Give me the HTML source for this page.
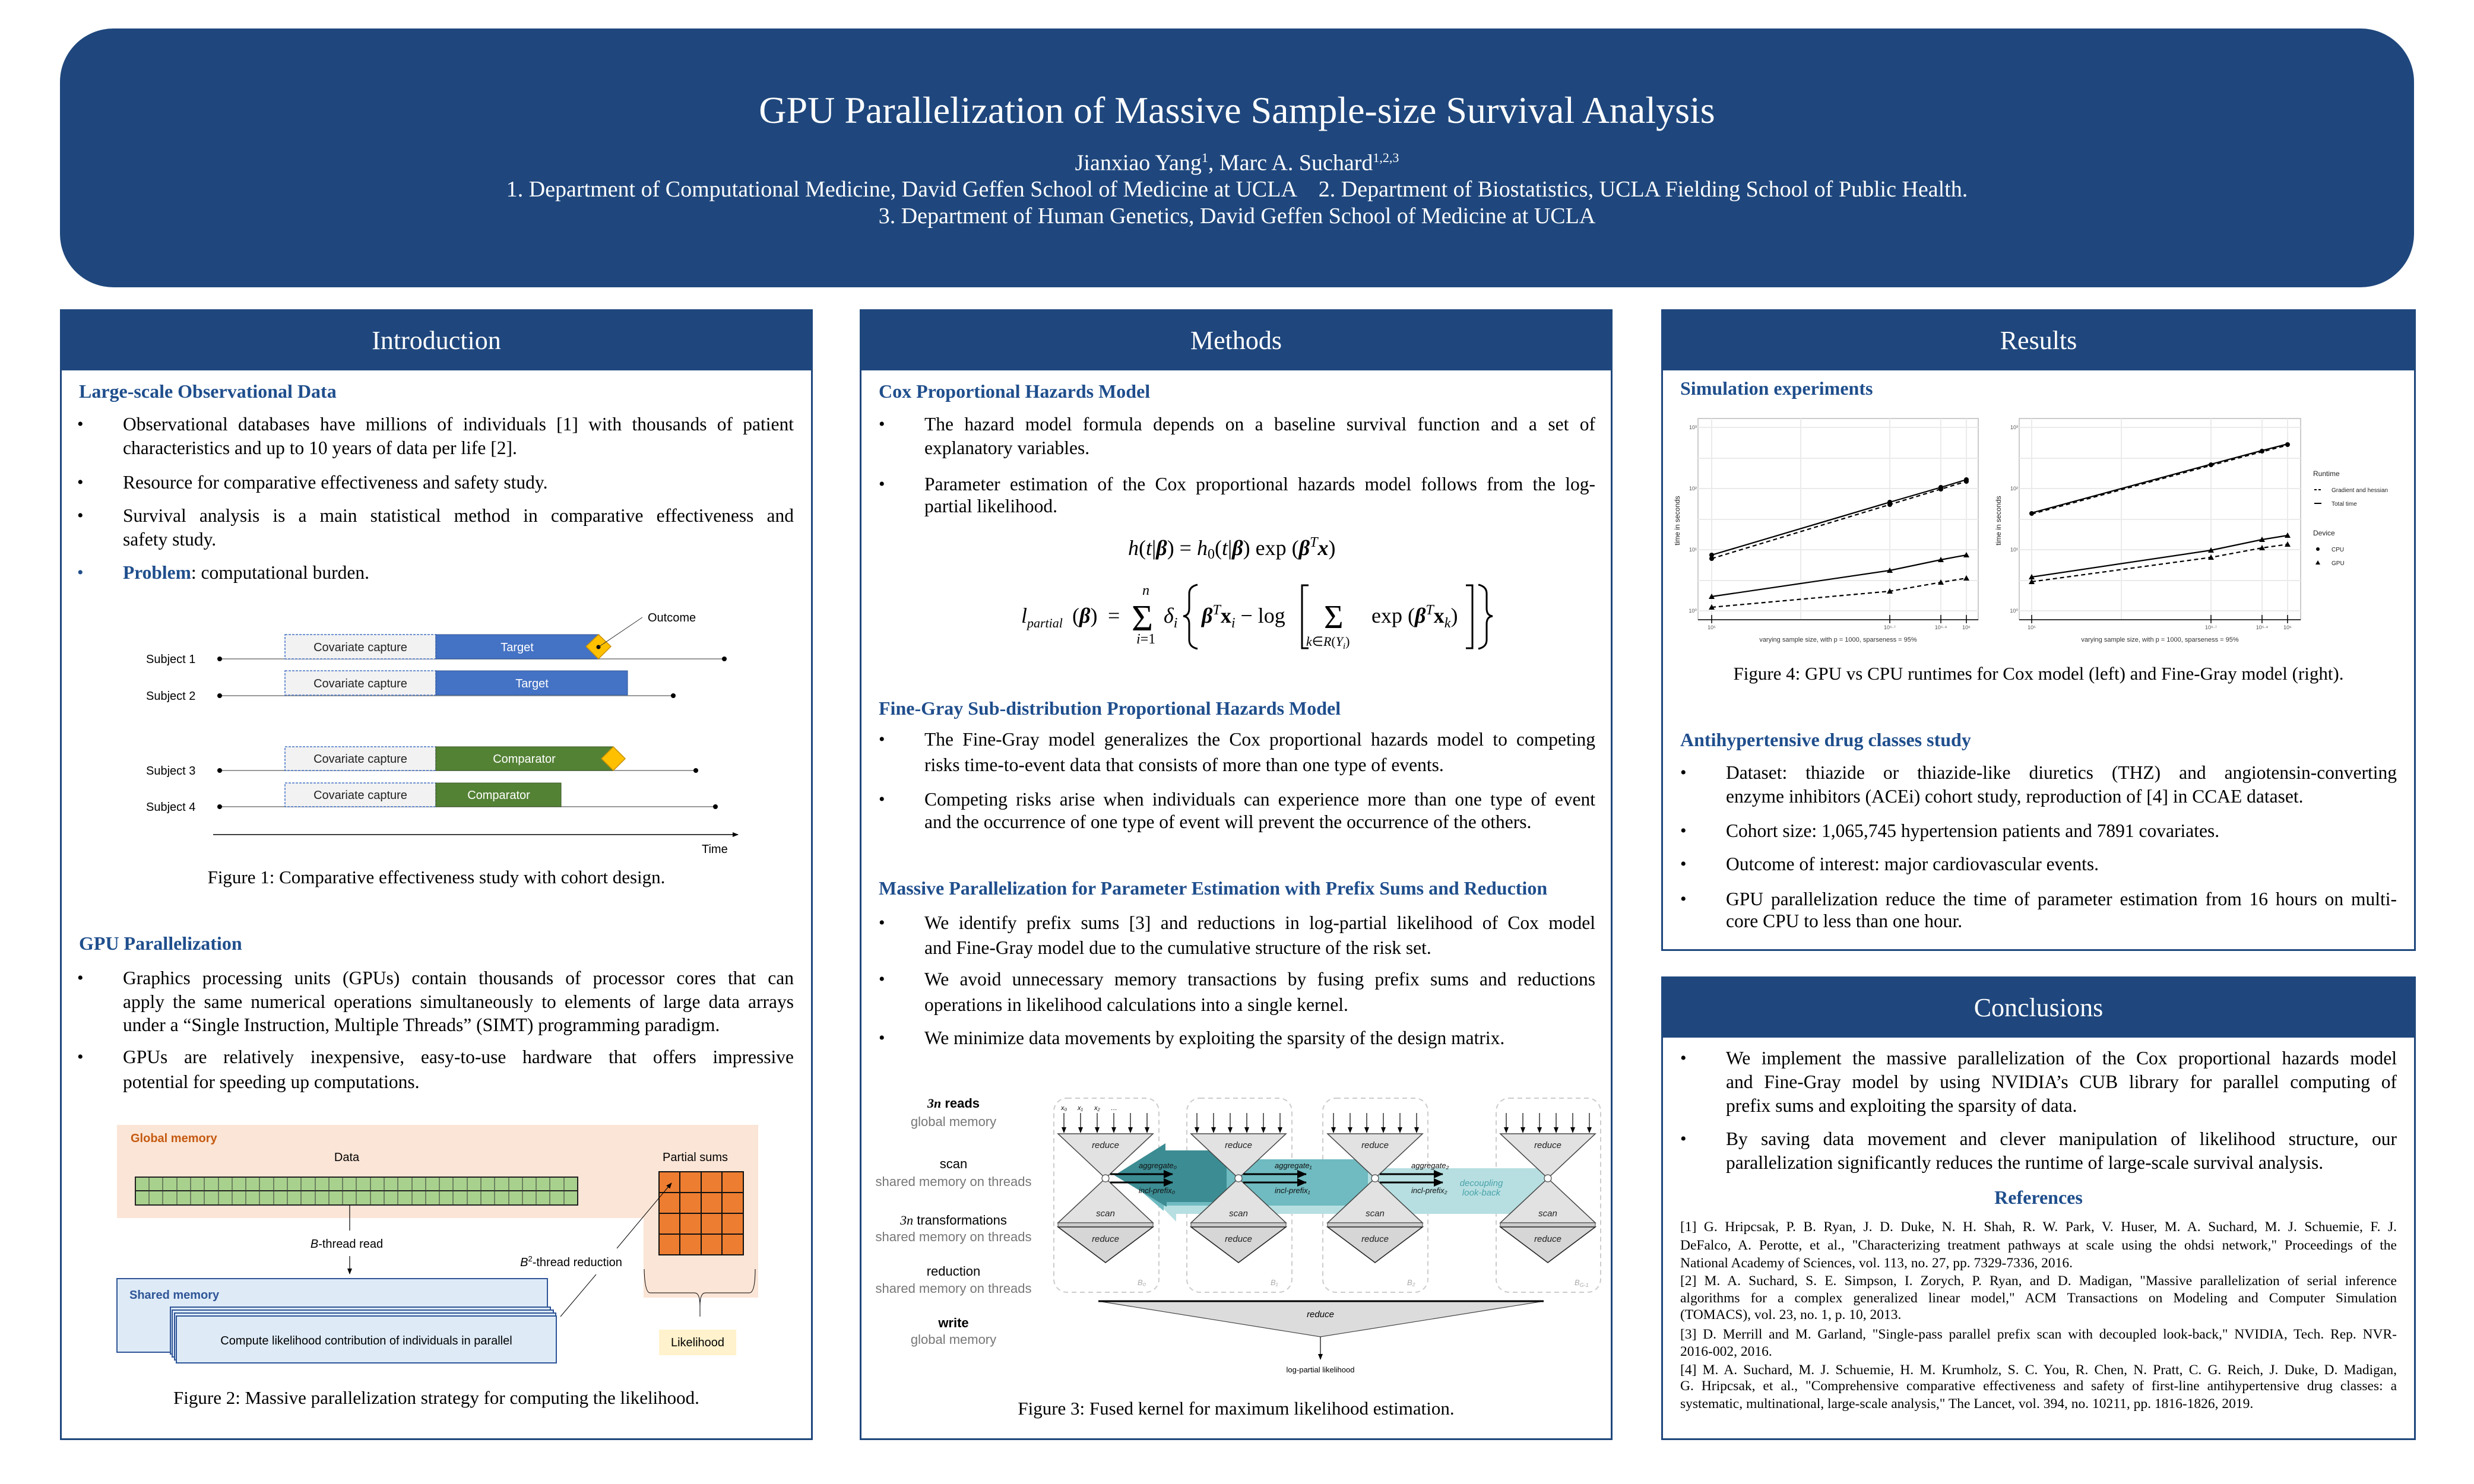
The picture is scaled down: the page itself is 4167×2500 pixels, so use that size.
<!DOCTYPE html>
<html><head><meta charset="utf-8">
<style>
html,body{margin:0;padding:0;background:#fff;}
body{width:4167px;height:2500px;position:relative;overflow:hidden;font-family:"Liberation Serif",serif;color:#000;}
.a{position:absolute;white-space:nowrap;}
.hdr{position:absolute;left:101px;top:48px;width:3965px;height:436px;background:#1f477d;border-radius:90px;}
.ht{position:absolute;left:101px;width:3965px;text-align:center;color:#fff;white-space:nowrap;}
.panel{position:absolute;border:3px solid #1f477d;box-sizing:border-box;background:#fff;}
.ph{position:absolute;left:0;top:0;right:0;height:100px;background:#1f477d;color:#fff;text-align:center;font-size:44px;line-height:100px;}
.sh{position:absolute;white-space:nowrap;font-weight:bold;color:#1f4e8c;font-size:32px;line-height:40px;}
.t{position:absolute;white-space:nowrap;font-size:31.5px;line-height:40px;}
.j{text-align:justify;text-align-last:justify;white-space:nowrap;}
.b{position:absolute;font-size:30px;line-height:40px;}
.cap{position:absolute;white-space:nowrap;font-size:31px;line-height:40px;text-align:center;}
.r{position:absolute;white-space:nowrap;font-size:23.5px;line-height:30px;}
</style></head><body>

<div class="hdr"></div>
<div class="ht" style="top:146px;font-size:64px;line-height:80px;">GPU Parallelization of Massive Sample-size Survival Analysis</div>
<div class="ht" style="top:244px;font-size:38px;line-height:44px;">Jianxiao Yang<sup style="font-size:22px">1</sup>, Marc A. Suchard<sup style="font-size:22px">1,2,3</sup></div>
<div class="ht" style="top:297px;font-size:38px;line-height:44px;">1. Department of Computational Medicine, David Geffen School of Medicine at UCLA &nbsp;&nbsp; 2. Department of Biostatistics, UCLA Fielding School of Public Health.</div>
<div class="ht" style="top:342px;font-size:38px;line-height:44px;">3. Department of Human Genetics, David Geffen School of Medicine at UCLA</div>

<!-- Panels -->
<div class="panel" style="left:101px;top:521px;width:1268px;height:1905px;"><div class="ph">Introduction</div></div>
<div class="panel" style="left:1448px;top:521px;width:1268px;height:1905px;"><div class="ph">Methods</div></div>
<div class="panel" style="left:2798px;top:521px;width:1271px;height:1081px;"><div class="ph">Results</div></div>
<div class="panel" style="left:2798px;top:1645px;width:1271px;height:781px;"><div class="ph">Conclusions</div></div>

<!-- Intro text -->
<div class="sh" style="left:133px;top:639px;">Large-scale Observational Data</div>
<div class="b" style="left:130px;top:695px;">•</div>
<div class="t j" style="left:207px;top:695px;width:1130px;">Observational databases have millions of individuals [1] with thousands of patient</div>
<div class="t" style="left:207px;top:735px;">characteristics and up to 10 years of data per life [2].</div>
<div class="b" style="left:130px;top:793px;">•</div>
<div class="t" style="left:207px;top:793px;">Resource for comparative effectiveness and safety study.</div>
<div class="b" style="left:130px;top:849px;">•</div>
<div class="t j" style="left:207px;top:849px;width:1130px;">Survival analysis is a main statistical method in comparative effectiveness and</div>
<div class="t" style="left:207px;top:889px;">safety study.</div>
<div class="b" style="left:130px;top:945px;color:#1f4e8c;">•</div>
<div class="t" style="left:207px;top:945px;"><b style="color:#1f4e8c">Problem</b>: computational burden.</div>
<div class="cap" style="left:101px;width:1268px;top:1458px;">Figure 1: Comparative effectiveness study with cohort design.</div>

<div class="sh" style="left:133px;top:1569px;">GPU Parallelization</div>
<div class="b" style="left:130px;top:1628px;">•</div>
<div class="t j" style="left:207px;top:1628px;width:1130px;">Graphics processing units (GPUs) contain thousands of processor cores that can</div>
<div class="t j" style="left:207px;top:1668px;width:1130px;">apply the same numerical operations simultaneously to elements of large data arrays</div>
<div class="t" style="left:207px;top:1707px;">under a “Single Instruction, Multiple Threads” (SIMT) programming paradigm.</div>
<div class="b" style="left:130px;top:1761px;">•</div>
<div class="t j" style="left:207px;top:1761px;width:1130px;">GPUs are relatively inexpensive, easy-to-use hardware that offers impressive</div>
<div class="t" style="left:207px;top:1803px;">potential for speeding up computations.</div>
<div class="cap" style="left:101px;width:1268px;top:2335px;">Figure 2: Massive parallelization strategy for computing the likelihood.</div>

<!-- Methods text -->
<div class="sh" style="left:1480px;top:639px;">Cox Proportional Hazards Model</div>
<div class="b" style="left:1480px;top:695px;">•</div>
<div class="t j" style="left:1557px;top:695px;width:1130px;">The hazard model formula depends on a baseline survival function and a set of</div>
<div class="t" style="left:1557px;top:735px;">explanatory variables.</div>
<div class="b" style="left:1480px;top:796px;">•</div>
<div class="t j" style="left:1557px;top:796px;width:1130px;">Parameter estimation of the Cox proportional hazards model follows from the log-</div>
<div class="t" style="left:1557px;top:833px;">partial likelihood.</div>

<div class="sh" style="left:1480px;top:1173px;">Fine-Gray Sub-distribution Proportional Hazards Model</div>
<div class="b" style="left:1480px;top:1226px;">•</div>
<div class="t j" style="left:1557px;top:1226px;width:1130px;">The Fine-Gray model generalizes the Cox proportional hazards model to competing</div>
<div class="t" style="left:1557px;top:1269px;">risks time-to-event data that consists of more than one type of events.</div>
<div class="b" style="left:1480px;top:1327px;">•</div>
<div class="t j" style="left:1557px;top:1327px;width:1130px;">Competing risks arise when individuals can experience more than one type of event</div>
<div class="t" style="left:1557px;top:1365px;">and the occurrence of one type of event will prevent the occurrence of the others.</div>

<div class="sh" style="left:1480px;top:1476px;">Massive Parallelization for Parameter Estimation with Prefix Sums and Reduction</div>
<div class="b" style="left:1480px;top:1535px;">•</div>
<div class="t j" style="left:1557px;top:1535px;width:1130px;">We identify prefix sums [3] and reductions in log-partial likelihood of Cox model</div>
<div class="t" style="left:1557px;top:1577px;">and Fine-Gray model due to the cumulative structure of the risk set.</div>
<div class="b" style="left:1480px;top:1630px;">•</div>
<div class="t j" style="left:1557px;top:1630px;width:1130px;">We avoid unnecessary memory transactions by fusing prefix sums and reductions</div>
<div class="t" style="left:1557px;top:1673px;">operations in likelihood calculations into a single kernel.</div>
<div class="b" style="left:1480px;top:1729px;">•</div>
<div class="t" style="left:1557px;top:1729px;">We minimize data movements by exploiting the sparsity of the design matrix.</div>
<div class="cap" style="left:1448px;width:1268px;top:2353px;">Figure 3: Fused kernel for maximum likelihood estimation.</div>

<!-- Results text -->
<div class="sh" style="left:2830px;top:634px;">Simulation experiments</div>
<div class="cap" style="left:2798px;width:1271px;top:1115px;">Figure 4: GPU vs CPU runtimes for Cox model (left) and Fine-Gray model (right).</div>
<div class="sh" style="left:2830px;top:1226px;">Antihypertensive drug classes study</div>
<div class="b" style="left:2830px;top:1282px;">•</div>
<div class="t j" style="left:2907px;top:1282px;width:1130px;">Dataset: thiazide or thiazide-like diuretics (THZ) and angiotensin-converting</div>
<div class="t" style="left:2907px;top:1322px;">enzyme inhibitors (ACEi) cohort study, reproduction of [4] in CCAE dataset.</div>
<div class="b" style="left:2830px;top:1380px;">•</div>
<div class="t" style="left:2907px;top:1380px;">Cohort size: 1,065,745 hypertension patients and 7891 covariates.</div>
<div class="b" style="left:2830px;top:1436px;">•</div>
<div class="t" style="left:2907px;top:1436px;">Outcome of interest: major cardiovascular events.</div>
<div class="b" style="left:2830px;top:1495px;">•</div>
<div class="t j" style="left:2907px;top:1495px;width:1130px;">GPU parallelization reduce the time of parameter estimation from 16 hours on multi-</div>
<div class="t" style="left:2907px;top:1532px;">core CPU to less than one hour.</div>

<!-- Conclusions -->
<div class="b" style="left:2830px;top:1763px;">•</div>
<div class="t j" style="left:2907px;top:1763px;width:1130px;">We implement the massive parallelization of the Cox proportional hazards model</div>
<div class="t j" style="left:2907px;top:1803px;width:1130px;">and Fine-Gray model by using NVIDIA’s CUB library for parallel computing of</div>
<div class="t" style="left:2907px;top:1843px;">prefix sums and exploiting the sparsity of data.</div>
<div class="b" style="left:2830px;top:1899px;">•</div>
<div class="t j" style="left:2907px;top:1899px;width:1130px;">By saving data movement and clever manipulation of likelihood structure, our</div>
<div class="t" style="left:2907px;top:1939px;">parallelization significantly reduces the runtime of large-scale survival analysis.</div>
<div class="sh" style="left:2798px;width:1271px;text-align:center;top:1997px;">References</div>
<div class="r j" style="left:2830px;width:1207px;top:2052px;">[1] G. Hripcsak, P. B. Ryan, J. D. Duke, N. H. Shah, R. W. Park, V. Huser, M. A. Suchard, M. J. Schuemie, F. J.</div>
<div class="r j" style="left:2830px;width:1207px;top:2083px;">DeFalco, A. Perotte, et al., "Characterizing treatment pathways at scale using the ohdsi network," Proceedings of the</div>
<div class="r" style="left:2830px;top:2113px;">National Academy of Sciences, vol. 113, no. 27, pp. 7329-7336, 2016.</div>
<div class="r j" style="left:2830px;width:1207px;top:2143px;">[2] M. A. Suchard, S. E. Simpson, I. Zorych, P. Ryan, and D. Madigan, "Massive parallelization of serial inference</div>
<div class="r j" style="left:2830px;width:1207px;top:2172px;">algorithms for a complex generalized linear model," ACM Transactions on Modeling and Computer Simulation</div>
<div class="r" style="left:2830px;top:2200px;">(TOMACS), vol. 23, no. 1, p. 10, 2013.</div>
<div class="r j" style="left:2830px;width:1207px;top:2233px;">[3] D. Merrill and M. Garland, "Single-pass parallel prefix scan with decoupled look-back," NVIDIA, Tech. Rep. NVR-</div>
<div class="r" style="left:2830px;top:2262px;">2016-002, 2016.</div>
<div class="r j" style="left:2830px;width:1207px;top:2293px;">[4] M. A. Suchard, M. J. Schuemie, H. M. Krumholz, S. C. You, R. Chen, N. Pratt, C. G. Reich, J. Duke, D. Madigan,</div>
<div class="r j" style="left:2830px;width:1207px;top:2320px;">G. Hripcsak, et al., "Comprehensive comparative effectiveness and safety of first-line antihypertensive drug classes: a</div>
<div class="r" style="left:2830px;top:2350px;">systematic, multinational, large-scale analysis," The Lancet, vol. 394, no. 10211, pp. 1816-1826, 2019.</div>

<svg class="a" style="left:0;top:0" width="4167" height="2500" viewBox="0 0 4167 2500" xmlns="http://www.w3.org/2000/svg">
<defs>
<marker id="ah" markerWidth="10" markerHeight="10" refX="9" refY="5" orient="auto" markerUnits="userSpaceOnUse"><path d="M0,1 L10,5 L0,9 z" fill="#000"/></marker>
<marker id="ah2" markerWidth="16" markerHeight="14" refX="15" refY="7" orient="auto" markerUnits="userSpaceOnUse"><path d="M0,0 L16,7 L0,14 z" fill="#000"/></marker>
</defs>

<!-- Equations -->
<g font-family="Liberation Serif, serif" fill="#000">
<text x="1900" y="935" font-size="36"><tspan font-style="italic">h</tspan>(<tspan font-style="italic">t</tspan>|<tspan font-weight="bold" font-style="italic">β</tspan>) = <tspan font-style="italic">h</tspan><tspan font-size="24" dy="6">0</tspan><tspan dy="-6">(</tspan><tspan font-style="italic">t</tspan>|<tspan font-weight="bold" font-style="italic">β</tspan>) exp (<tspan font-weight="bold" font-style="italic">β</tspan><tspan font-size="24" dy="-14" font-style="italic">T</tspan><tspan dy="14" font-weight="bold" font-style="italic">x</tspan>)</text>
<text x="1720" y="1049" font-size="36" font-style="italic">l</text>
<text x="1730" y="1057" font-size="22" font-style="italic">partial</text>
<text x="1806" y="1049" font-size="36">(<tspan font-weight="bold" font-style="italic">β</tspan>)</text>
<text x="1866" y="1049" font-size="36">=</text>
<text x="1906" y="1062" font-size="62">Σ</text>
<text x="1924" y="1002" font-size="24" font-style="italic">n</text>
<text x="1914" y="1084" font-size="24"><tspan font-style="italic">i</tspan>=1</text>
<text x="1960" y="1049" font-size="36" font-style="italic">δ<tspan font-size="24" dy="8">i</tspan></text>
<path d="M2017,985 Q2003,988 2003,1000 L2003,1025 Q2003,1037 1993,1038 Q2003,1039 2003,1051 L2003,1078 Q2003,1090 2017,1093" fill="none" stroke="#000" stroke-width="3"/>
<text x="2024" y="1049" font-size="36"><tspan font-weight="bold" font-style="italic">β</tspan><tspan font-size="24" dy="-14" font-style="italic">T</tspan><tspan dy="14" font-weight="bold">x</tspan><tspan font-size="24" dy="8" font-style="italic">i</tspan><tspan dy="-8"> − log</tspan></text>
<path d="M2204,986 L2193,986 L2193,1092 L2204,1092" fill="none" stroke="#000" stroke-width="3"/>
<text x="2230" y="1058" font-size="56">Σ</text>
<text x="2200" y="1088" font-size="22" font-style="italic">k<tspan font-style="normal">∈</tspan>R<tspan font-style="normal">(</tspan>Y<tspan font-size="15" dy="5">i</tspan><tspan font-style="normal" dy="-5">)</tspan></text>
<text x="2310" y="1049" font-size="36">exp (<tspan font-weight="bold" font-style="italic">β</tspan><tspan font-size="24" dy="-14" font-style="italic">T</tspan><tspan dy="14" font-weight="bold">x</tspan><tspan font-size="24" dy="8" font-style="italic">k</tspan><tspan dy="-8">)</tspan></text>
<path d="M2469,986 L2480,986 L2480,1092 L2469,1092" fill="none" stroke="#000" stroke-width="3"/>
<path d="M2490,985 Q2504,988 2504,1000 L2504,1025 Q2504,1037 2514,1038 Q2504,1039 2504,1051 L2504,1078 Q2504,1090 2490,1093" fill="none" stroke="#000" stroke-width="3"/>
</g>

<!-- Figure 1 -->
<g font-family="Liberation Sans, sans-serif" font-size="20">
<g stroke="#999" stroke-width="2">
<line x1="370" y1="1110" x2="1220" y2="1110"/>
<line x1="370" y1="1172" x2="1134" y2="1172"/>
<line x1="370" y1="1298" x2="1172" y2="1298"/>
<line x1="370" y1="1359" x2="1205" y2="1359"/>
</g>
<g fill="#000"><circle cx="370" cy="1110" r="4"/><circle cx="1220" cy="1110" r="4"/><circle cx="370" cy="1172" r="4"/><circle cx="1134" cy="1172" r="4"/><circle cx="370" cy="1298" r="4"/><circle cx="1172" cy="1298" r="4"/><circle cx="370" cy="1359" r="4"/><circle cx="1205" cy="1359" r="4"/></g>
<text x="246" y="1117">Subject 1</text><text x="246" y="1179">Subject 2</text><text x="246" y="1305">Subject 3</text><text x="246" y="1366">Subject 4</text>
<g fill="#f2f2f2" stroke="#4472c4" stroke-width="1.5" stroke-dasharray="4,2">
<rect x="480" y="1069" width="254" height="41"/><rect x="480" y="1130" width="254" height="41"/><rect x="480" y="1258" width="254" height="40"/><rect x="480" y="1319" width="254" height="40"/>
</g>
<rect x="734" y="1069" width="275" height="41" fill="#4472c4" stroke="#2f5597"/>
<rect x="734" y="1130" width="323" height="41" fill="#4472c4" stroke="#2f5597"/>
<rect x="734" y="1258" width="299" height="40" fill="#548235" stroke="#385723"/>
<rect x="734" y="1319" width="211" height="40" fill="#548235" stroke="#385723"/>
<g fill="#222" text-anchor="middle"><text x="607" y="1097">Covariate capture</text><text x="607" y="1158">Covariate capture</text><text x="607" y="1285">Covariate capture</text><text x="607" y="1346">Covariate capture</text></g>
<g fill="#fff" text-anchor="middle"><text x="871" y="1097">Target</text><text x="896" y="1158">Target</text><text x="883" y="1285">Comparator</text><text x="840" y="1346">Comparator</text></g>
<polygon points="1008,1069 1029,1089 1008,1110 987,1089" fill="#ffc000" stroke="#c89000" stroke-width="1.5"/>
<polygon points="1033,1258 1053,1278 1033,1298 1013,1278" fill="#ffc000" stroke="#c89000" stroke-width="1.5"/>
<circle cx="1008" cy="1090" r="3.5" fill="#000"/>
<line x1="1008" y1="1090" x2="1082" y2="1040" stroke="#333" stroke-width="1"/>
<text x="1091" y="1047">Outcome</text>
<line x1="359" y1="1406" x2="1243" y2="1406" stroke="#000" stroke-width="1.5" marker-end="url(#ah)"/>
<text x="1182" y="1437">Time</text>
</g>

<!-- Figure 2 -->
<g font-family="Liberation Sans, sans-serif" font-size="20">
<rect x="197" y="1895" width="1080" height="157" fill="#fbe5d6"/>
<rect x="1084" y="1895" width="193" height="291" fill="#fbe5d6"/>
<text x="220" y="1924" fill="#c55a11" font-weight="bold">Global memory</text>
<text x="584" y="1956" text-anchor="middle">Data</text>
<text x="1171" y="1956" text-anchor="middle">Partial sums</text>
<rect x="228" y="1983" width="745" height="47" fill="#a9d18e" stroke="#222" stroke-width="2"/>
<line x1="228" y1="2006" x2="973" y2="2006" stroke="#222" stroke-width="2"/>
<g stroke="#333" stroke-width="1">
<line x1="251" y1="1983" x2="251" y2="2030"/><line x1="274" y1="1983" x2="274" y2="2030"/><line x1="298" y1="1983" x2="298" y2="2030"/><line x1="321" y1="1983" x2="321" y2="2030"/><line x1="344" y1="1983" x2="344" y2="2030"/><line x1="368" y1="1983" x2="368" y2="2030"/><line x1="391" y1="1983" x2="391" y2="2030"/><line x1="414" y1="1983" x2="414" y2="2030"/><line x1="437" y1="1983" x2="437" y2="2030"/><line x1="461" y1="1983" x2="461" y2="2030"/><line x1="484" y1="1983" x2="484" y2="2030"/><line x1="507" y1="1983" x2="507" y2="2030"/><line x1="531" y1="1983" x2="531" y2="2030"/><line x1="554" y1="1983" x2="554" y2="2030"/><line x1="577" y1="1983" x2="577" y2="2030"/><line x1="600" y1="1983" x2="600" y2="2030"/><line x1="624" y1="1983" x2="624" y2="2030"/><line x1="647" y1="1983" x2="647" y2="2030"/><line x1="670" y1="1983" x2="670" y2="2030"/><line x1="694" y1="1983" x2="694" y2="2030"/><line x1="717" y1="1983" x2="717" y2="2030"/><line x1="740" y1="1983" x2="740" y2="2030"/><line x1="763" y1="1983" x2="763" y2="2030"/><line x1="787" y1="1983" x2="787" y2="2030"/><line x1="810" y1="1983" x2="810" y2="2030"/><line x1="833" y1="1983" x2="833" y2="2030"/><line x1="857" y1="1983" x2="857" y2="2030"/><line x1="880" y1="1983" x2="880" y2="2030"/><line x1="903" y1="1983" x2="903" y2="2030"/><line x1="926" y1="1983" x2="926" y2="2030"/><line x1="950" y1="1983" x2="950" y2="2030"/>
</g>
<rect x="1110" y="1974" width="142" height="140" fill="#ed7d31" stroke="#111" stroke-width="2"/>
<g stroke="#111" stroke-width="2">
<line x1="1145" y1="1974" x2="1145" y2="2114"/><line x1="1181" y1="1974" x2="1181" y2="2114"/><line x1="1216" y1="1974" x2="1216" y2="2114"/>
<line x1="1110" y1="2009" x2="1252" y2="2009"/><line x1="1110" y1="2044" x2="1252" y2="2044"/><line x1="1110" y1="2079" x2="1252" y2="2079"/>
</g>
<line x1="589" y1="2030" x2="589" y2="2073" stroke="#000" stroke-width="1.2"/>
<text x="584" y="2102" text-anchor="middle"><tspan font-style="italic">B</tspan>-thread read</text>
<line x1="589" y1="2116" x2="589" y2="2146" stroke="#000" stroke-width="1.2" marker-end="url(#ah)"/>
<rect x="197" y="2154" width="725" height="124" fill="#deebf7" stroke="#2f5597" stroke-width="2"/>
<text x="218" y="2188" fill="#2f5597" font-weight="bold">Shared memory</text>
<rect x="287" y="2202" width="640" height="79" fill="#deebf7" stroke="#2f5597" stroke-width="2"/>
<rect x="290" y="2207" width="642" height="79" fill="#deebf7" stroke="#2f5597" stroke-width="2"/>
<rect x="294" y="2212" width="642" height="79" fill="#deebf7" stroke="#2f5597" stroke-width="2"/>
<rect x="297" y="2217" width="640" height="79" fill="#deebf7" stroke="#2f5597" stroke-width="2"/>
<text x="617" y="2265" text-anchor="middle">Compute likelihood contribution of individuals in parallel</text>
<text x="962" y="2133" text-anchor="middle"><tspan font-style="italic">B</tspan><tspan font-size="13" dy="-8">2</tspan><tspan dy="8">-thread reduction</tspan></text>
<line x1="944" y1="2218" x2="1004" y2="2147" stroke="#000" stroke-width="1"/>
<line x1="1039" y1="2103" x2="1131" y2="1993" stroke="#000" stroke-width="1" marker-end="url(#ah)"/>
<path d="M1085,2138 Q1086,2178 1095,2178 L1170,2178 Q1179,2178 1179,2200 Q1179,2178 1188,2178 L1262,2178 Q1272,2178 1272,2138" fill="none" stroke="#000" stroke-width="1"/>
<line x1="1179" y1="2195" x2="1179" y2="2218" stroke="#000" stroke-width="1"/>
<rect x="1110" y="2240" width="130" height="43" fill="#fff2cc"/>
<text x="1175" y="2268" text-anchor="middle">Likelihood</text>
</g>

<!-- Figure 3 -->
<g font-family="Liberation Sans, sans-serif">
<g text-anchor="middle" font-size="22">
<text x="1606" y="1866" font-weight="bold"><tspan font-family="Liberation Serif, serif" font-style="italic">3n</tspan> reads</text>
<text x="1606" y="1897" fill="#777">global memory</text>
<text x="1606" y="1968">scan</text>
<text x="1606" y="1998" fill="#777">shared memory on threads</text>
<text x="1606" y="2063"><tspan font-family="Liberation Serif, serif" font-style="italic">3n</tspan> transformations</text>
<text x="1606" y="2091" fill="#777">shared memory on threads</text>
<text x="1606" y="2149">reduction</text>
<text x="1606" y="2178" fill="#777">shared memory on threads</text>
<text x="1606" y="2236" font-weight="bold">write</text>
<text x="1606" y="2264" fill="#777">global memory</text>
</g>
<g fill="none" stroke="#ccc" stroke-width="2" stroke-dasharray="8,6">
<rect x="1775" y="1850" width="177" height="327" rx="22"/>
<rect x="1999" y="1850" width="177" height="327" rx="22"/>
<rect x="2228" y="1850" width="177" height="327" rx="22"/>
<rect x="2520" y="1850" width="176" height="327" rx="22"/>
</g>
<polygon points="2607,1968 2607,2045 1981,2045 1981,2058 1930,2006 1960,1968" fill="#b7dfe1"/>
<polygon points="2304,1953 2304,2031 1960,2031 1960,2040 1905,1992 1935,1953" fill="#6fbbc1"/>
<polygon points="2066,1938 2066,2025 1965,2025 1965,2033 1877,1980 1963,1926 1963,1938" fill="#3c8c93"/>
<text x="2495" y="1998" font-size="15" fill="#4aa3ab" text-anchor="middle" font-style="italic">decoupling</text>
<text x="2495" y="2014" font-size="15" fill="#4aa3ab" text-anchor="middle" font-style="italic">look-back</text>
<g id="blk1">
<g stroke="#000" stroke-width="1.2">
<line x1="1792" y1="1875" x2="1792" y2="1908" marker-end="url(#ah)"/><line x1="1820" y1="1875" x2="1820" y2="1908" marker-end="url(#ah)"/><line x1="1848" y1="1875" x2="1848" y2="1908" marker-end="url(#ah)"/><line x1="1876" y1="1875" x2="1876" y2="1908" marker-end="url(#ah)"/><line x1="1904" y1="1875" x2="1904" y2="1908" marker-end="url(#ah)"/><line x1="1932" y1="1875" x2="1932" y2="1908" marker-end="url(#ah)"/>
</g>
</g>
<use href="#blk1" x="224"/><use href="#blk1" x="454"/><use href="#blk1" x="745"/>
<g font-size="11" font-style="italic"><text x="1787" y="1870">x₀</text><text x="1815" y="1870">x₁</text><text x="1843" y="1870">x₂</text><text x="1871" y="1870">…</text></g>
<g id="hg">
<polygon points="1782,1910 1942,1910 1862,1985" fill="#e2e2e2" stroke="#444" stroke-width="1.5"/>
<polygon points="1862,1985 1942,2060 1782,2060" fill="#e2e2e2" stroke="#444" stroke-width="1.5"/>
<rect x="1782" y="2060" width="160" height="7" fill="#ccc" stroke="#444" stroke-width="1"/>
<polygon points="1782,2067 1942,2067 1862,2127" fill="#d6d6d6" stroke="#222" stroke-width="1.5"/>
<circle cx="1862" cy="1985" r="6" fill="#fff" stroke="#444" stroke-width="1.2"/>
<g font-size="15" font-style="italic" text-anchor="middle" fill="#222"><text x="1862" y="1934">reduce</text><text x="1862" y="2049">scan</text><text x="1862" y="2092">reduce</text></g>
</g>
<use href="#hg" x="224"/><use href="#hg" x="454"/><use href="#hg" x="745"/>
<g stroke="#000" stroke-width="3">
<line x1="1870" y1="1978" x2="1975" y2="1978" marker-end="url(#ah2)"/><line x1="1870" y1="1992" x2="1975" y2="1992" marker-end="url(#ah2)"/>
<line x1="2094" y1="1978" x2="2200" y2="1978" marker-end="url(#ah2)"/><line x1="2094" y1="1992" x2="2200" y2="1992" marker-end="url(#ah2)"/>
<line x1="2324" y1="1978" x2="2430" y2="1978" marker-end="url(#ah2)"/><line x1="2324" y1="1992" x2="2430" y2="1992" marker-end="url(#ah2)"/>
</g>
<g font-size="13" font-style="italic" fill="#111">
<text x="1918" y="1968">aggregate₀</text><text x="1918" y="2010">incl-prefix₀</text>
<text x="2147" y="1968">aggregate₁</text><text x="2147" y="2010">incl-prefix₁</text>
<text x="2377" y="1968">aggregate₂</text><text x="2377" y="2010">incl-prefix₂</text>
</g>
<g font-size="13" font-style="italic" fill="#aaa"><text x="1916" y="2165">B₀</text><text x="2140" y="2165">B₁</text><text x="2370" y="2165">B₂</text><text x="2652" y="2165">B<tspan font-size="9" dy="3">G-1</tspan></text></g>
<polygon points="1850,2192 2600,2192 2224,2252" fill="#dcdcdc" stroke="#444" stroke-width="1.2"/>
<line x1="1850" y1="2192" x2="2600" y2="2192" stroke="#000" stroke-width="3"/>
<text x="2224" y="2219" font-size="15" font-style="italic" text-anchor="middle">reduce</text>
<line x1="2224" y1="2252" x2="2224" y2="2290" stroke="#000" stroke-width="1.2" marker-end="url(#ah)"/>
<text x="2224" y="2312" font-size="13" text-anchor="middle">log-partial likelihood</text>
</g>

<!-- Figure 4 plots -->
<g font-family="Liberation Sans, sans-serif">
<rect x="2860" y="705" width="472" height="339" fill="#fff" stroke="#bbb" stroke-width="1.5"/>
<rect x="3401" y="705" width="474" height="339" fill="#fff" stroke="#bbb" stroke-width="1.5"/>
<g stroke="#ebebeb" stroke-width="2">
<line x1="2860" y1="720" x2="3332" y2="720"/><line x1="2860" y1="823" x2="3332" y2="823"/><line x1="2860" y1="926" x2="3332" y2="926"/><line x1="2860" y1="1029" x2="3332" y2="1029"/>
<line x1="2860" y1="772" x2="3332" y2="772"/><line x1="2860" y1="875" x2="3332" y2="875"/><line x1="2860" y1="978" x2="3332" y2="978"/>
<line x1="2883" y1="705" x2="2883" y2="1044"/><line x1="3183" y1="705" x2="3183" y2="1044"/><line x1="3269" y1="705" x2="3269" y2="1044"/><line x1="3312" y1="705" x2="3312" y2="1044"/><line x1="3033" y1="705" x2="3033" y2="1044"/>
<line x1="3401" y1="720" x2="3875" y2="720"/><line x1="3401" y1="823" x2="3875" y2="823"/><line x1="3401" y1="926" x2="3875" y2="926"/><line x1="3401" y1="1029" x2="3875" y2="1029"/>
<line x1="3401" y1="772" x2="3875" y2="772"/><line x1="3401" y1="875" x2="3875" y2="875"/><line x1="3401" y1="978" x2="3875" y2="978"/>
<line x1="3422" y1="705" x2="3422" y2="1044"/><line x1="3724" y1="705" x2="3724" y2="1044"/><line x1="3810" y1="705" x2="3810" y2="1044"/><line x1="3853" y1="705" x2="3853" y2="1044"/><line x1="3573" y1="705" x2="3573" y2="1044"/>
</g>
<g fill="none" stroke="#000" stroke-width="2.2">
<polyline points="2883,935 3183,846 3269,821 3312,808"/>
<polyline points="2883,941 3183,850 3269,824 3312,811" stroke-dasharray="7,5"/>
<polyline points="2883,1005 3183,961 3269,943 3312,935"/>
<polyline points="2883,1023 3183,996 3269,981 3312,974" stroke-dasharray="7,5"/>
<polyline points="3422,864 3724,782 3810,759 3853,748"/>
<polyline points="3422,866 3724,784 3810,761 3853,750" stroke-dasharray="7,5"/>
<polyline points="3422,972 3724,927 3810,909 3853,902"/>
<polyline points="3422,980 3724,939 3810,923 3853,917" stroke-dasharray="7,5"/>
</g>
<g fill="#000">
<circle cx="2883" cy="935" r="4"/><circle cx="3183" cy="846" r="4"/><circle cx="3269" cy="821" r="4"/><circle cx="3312" cy="808" r="4"/>
<circle cx="2883" cy="941" r="4"/><circle cx="3183" cy="850" r="4"/><circle cx="3269" cy="824" r="4"/><circle cx="3312" cy="811" r="4"/>
<circle cx="3422" cy="865" r="4"/><circle cx="3724" cy="783" r="4"/><circle cx="3810" cy="760" r="4"/><circle cx="3853" cy="749" r="4"/>
<polygon points="2883,1000 2888,1009 2878,1009"/><polygon points="3183,956 3188,965 3178,965"/><polygon points="3269,938 3274,947 3264,947"/><polygon points="3312,930 3317,939 3307,939"/>
<polygon points="2883,1018 2888,1027 2878,1027"/><polygon points="3183,991 3188,1000 3178,1000"/><polygon points="3269,976 3274,985 3264,985"/><polygon points="3312,969 3317,978 3307,978"/>
<polygon points="3422,967 3427,976 3417,976"/><polygon points="3724,922 3729,931 3719,931"/><polygon points="3810,904 3815,913 3805,913"/><polygon points="3853,897 3858,906 3848,906"/>
<polygon points="3422,975 3427,984 3417,984"/><polygon points="3724,934 3729,943 3719,943"/><polygon points="3810,918 3815,927 3805,927"/><polygon points="3853,912 3858,921 3848,921"/>
</g>
<g stroke="#000" stroke-width="1.5">
<line x1="2860" y1="1044" x2="3332" y2="1044"/><line x1="3401" y1="1044" x2="3875" y2="1044"/>
<line x1="2883" y1="1036" x2="2883" y2="1050"/><line x1="3183" y1="1036" x2="3183" y2="1050"/><line x1="3269" y1="1036" x2="3269" y2="1050"/><line x1="3312" y1="1036" x2="3312" y2="1050"/>
<line x1="3422" y1="1036" x2="3422" y2="1050"/><line x1="3724" y1="1036" x2="3724" y2="1050"/><line x1="3810" y1="1036" x2="3810" y2="1050"/><line x1="3853" y1="1036" x2="3853" y2="1050"/>
</g>
<g font-size="9" fill="#555" text-anchor="end">
<text x="2858" y="723">10³</text><text x="2858" y="826">10²</text><text x="2858" y="929">10¹</text><text x="2858" y="1032">10⁰</text>
<text x="3399" y="723">10³</text><text x="3399" y="826">10²</text><text x="3399" y="929">10¹</text><text x="3399" y="1032">10⁰</text>
</g>
<g font-size="9" fill="#555" text-anchor="middle">
<text x="2883" y="1060">10⁵</text><text x="3183" y="1060">10⁵·⁷</text><text x="3269" y="1060">10⁵·⁹</text><text x="3312" y="1060">10⁶</text>
<text x="3422" y="1060">10⁵</text><text x="3724" y="1060">10⁵·⁷</text><text x="3810" y="1060">10⁵·⁹</text><text x="3853" y="1060">10⁶</text>
<text x="3096" y="1081" font-size="11" fill="#333">varying sample size, with p = 1000, sparseness = 95%</text>
<text x="3638" y="1081" font-size="11" fill="#333">varying sample size, with p = 1000, sparseness = 95%</text>
<text transform="translate(2829,877) rotate(-90)" font-size="12" fill="#222">time in seconds</text>
<text transform="translate(3370,877) rotate(-90)" font-size="12" fill="#222">time in seconds</text>
</g>
<g font-size="12" fill="#222">
<text x="3896" y="802">Runtime</text>
<line x1="3898" y1="825" x2="3910" y2="825" stroke="#000" stroke-width="2" stroke-dasharray="4,3"/>
<text x="3927" y="829" font-size="10">Gradient and hessian</text>
<line x1="3898" y1="848" x2="3910" y2="848" stroke="#000" stroke-width="2"/>
<text x="3927" y="852" font-size="10">Total time</text>
<text x="3896" y="902">Device</text>
<circle cx="3904" cy="925" r="3" fill="#000"/><text x="3927" y="929" font-size="10">CPU</text>
<polygon points="3904,944 3908,951 3900,951" fill="#000"/><text x="3927" y="952" font-size="10">GPU</text>
</g>
</g>
</svg>
</body></html>
